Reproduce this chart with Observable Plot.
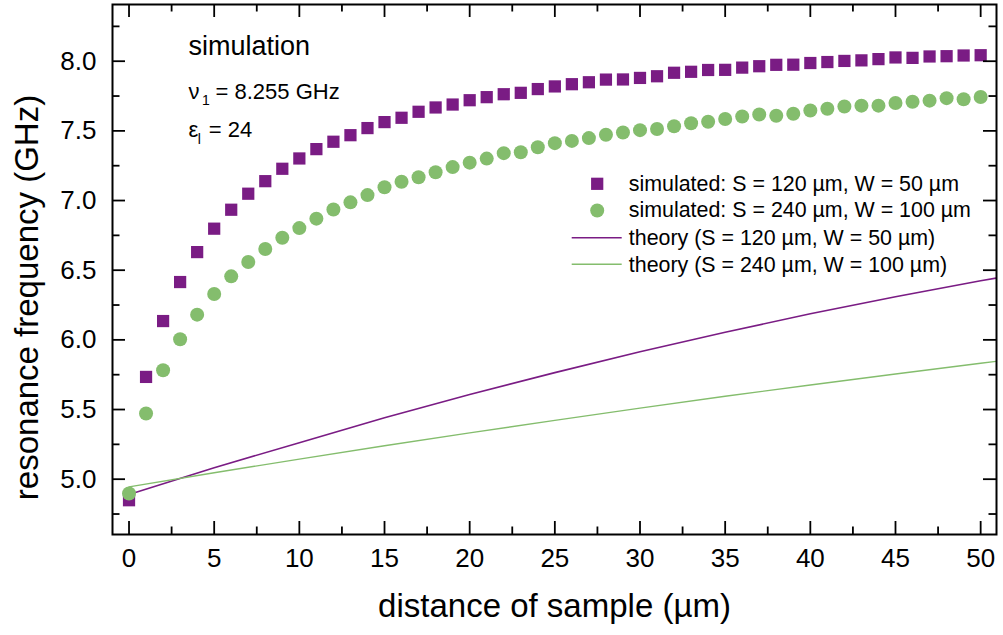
<!DOCTYPE html>
<html>
<head>
<meta charset="utf-8">
<script src="https://cdn.jsdelivr.net/npm/d3@7"></script>
<script src="https://cdn.jsdelivr.net/npm/@observablehq/plot@0.6"></script>
<style>
  html, body { margin: 0; padding: 0; background: #fff; }
  #chart svg { font-family: "Liberation Sans", Arial, sans-serif; }
</style>
</head>
<body>
<div id="chart"></div>
<script>
// ---- data ----
const distance = [0,1,2,3,4,5,6,7,8,9,10,11,12,13,14,15,16,17,18,19,20,21,22,23,24,25,26,27,28,29,30,31,32,33,34,35,36,37,38,39,40,41,42,43,44,45,46,47,48,49,50];
const simS120 = [4.849,5.734,6.135,6.415,6.630,6.798,6.934,7.049,7.139,7.228,7.302,7.369,7.422,7.469,7.520,7.563,7.594,7.637,7.668,7.689,7.720,7.742,7.763,7.773,7.800,7.819,7.835,7.849,7.868,7.869,7.880,7.892,7.917,7.924,7.937,7.938,7.954,7.964,7.974,7.975,7.987,7.994,8.002,8.006,8.015,8.027,8.024,8.034,8.036,8.041,8.043];
const simS240 = [4.897,5.471,5.782,6.004,6.181,6.329,6.456,6.559,6.652,6.733,6.802,6.870,6.936,6.987,7.039,7.095,7.135,7.167,7.203,7.240,7.272,7.301,7.340,7.347,7.382,7.412,7.428,7.448,7.472,7.488,7.505,7.513,7.533,7.555,7.565,7.585,7.603,7.618,7.608,7.623,7.646,7.659,7.675,7.681,7.681,7.700,7.709,7.717,7.735,7.727,7.743];
const theoryDistance = [0,5,10,15,20,25,30,35,40,45,50,51];
const theoryS120 = [4.890,5.082,5.262,5.441,5.608,5.765,5.914,6.055,6.187,6.310,6.424,6.445];
const theoryS240 = [4.945,5.046,5.144,5.240,5.332,5.422,5.510,5.595,5.676,5.755,5.832,5.847];
const xMajorTicks = [0,5,10,15,20,25,30,35,40,45,50];
const xMinorTicks = [2.5,7.5,12.5,17.5,22.5,27.5,32.5,37.5,42.5,47.5];
const yMajorTicks = [5.0,5.5,6.0,6.5,7.0,7.5,8.0];
const yMinorTicks = [4.75,5.25,5.75,6.25,6.75,7.25,7.75,8.25];
const legendLabels = [
  "simulated: S = 120 µm, W = 50 µm",
  "simulated: S = 240 µm, W = 100 µm",
  "theory (S = 120 µm, W = 50 µm)",
  "theory (S = 240 µm, W = 100 µm)"
];
const purple = "#7a1c84";
const green = "#84bd6d";

// ---- tables ----
const sim120 = distance.map((d, i) => ({d, f: simS120[i]}));
const sim240 = distance.map((d, i) => ({d, f: simS240[i]}));
const th120 = theoryDistance.map((d, i) => ({d, f: theoryS120[i]}));
const th240 = theoryDistance.map((d, i) => ({d, f: theoryS240[i]}));

// ---- layout ----
const W = 1003, H = 635;
const mL = 112, mR = 7, mT = 4, mB = 101;
const plotH = H - mT - mB, plotW = W - mL - mR;
const majorLen = 13, minorLen = 7.5;
const tickStroke = 1.8;

// legend geometry (pixels relative to frame top-left)
const legRows = [179.3, 206, 233.7, 260.3];
const legSymX = 484.7, legTextX = 516.3, legLineX1 = 459.7, legLineX2 = 509.7;

function legendLines(index, scales, values, dims) {
  const g = d3.create("svg:g");
  [[legRows[2], purple, 1.6], [legRows[3], green, 1.4]].forEach(([y, c, w]) => {
    g.append("line")
      .attr("x1", dims.marginLeft + legLineX1).attr("x2", dims.marginLeft + legLineX2)
      .attr("y1", dims.marginTop + y).attr("y2", dims.marginTop + y)
      .attr("stroke", c).attr("stroke-width", w);
  });
  return g.node();
}

const txt = (t, dx, dy, fontSize, extra = {}) =>
  Plot.text([t], {frameAnchor: "top-left", dx, dy, fontSize, textAnchor: "start", lineAnchor: "middle", fill: "#000", ...extra});

const chart = Plot.plot({
  width: W, height: H,
  marginLeft: mL, marginRight: mR, marginTop: mT, marginBottom: mB,
  style: {fontFamily: "'Liberation Sans', Arial, sans-serif", color: "#000", background: "#fff"},
  x: {domain: [-0.97, 50.93]},
  y: {domain: [4.603, 8.407]},
  marks: [
    // theory lines
    Plot.line(th120, {x: "d", y: "f", stroke: purple, strokeWidth: 1.6, clip: true}),
    Plot.line(th240, {x: "d", y: "f", stroke: green, strokeWidth: 1.4, clip: true}),
    // simulated markers
    Plot.dot(sim120, {x: "d", y: "f", symbol: "square", r: 6.9, fill: purple, stroke: "none"}),
    Plot.dot(sim240, {x: "d", y: "f", symbol: "circle", r: 7, fill: green, stroke: "none"}),
    // frame and inward ticks
    Plot.frame({stroke: "#000", strokeWidth: 2}),
    Plot.tickX(xMajorTicks, {x: d => d, insetTop: plotH - majorLen, stroke: "#000", strokeWidth: tickStroke}),
    Plot.tickX(xMinorTicks, {x: d => d, insetTop: plotH - minorLen, stroke: "#000", strokeWidth: tickStroke}),
    Plot.tickX(xMajorTicks, {x: d => d, insetBottom: plotH - majorLen, stroke: "#000", strokeWidth: tickStroke}),
    Plot.tickX(xMinorTicks, {x: d => d, insetBottom: plotH - minorLen, stroke: "#000", strokeWidth: tickStroke}),
    Plot.tickY(yMajorTicks, {y: d => d, insetRight: plotW - majorLen, stroke: "#000", strokeWidth: tickStroke}),
    Plot.tickY(yMinorTicks, {y: d => d, insetRight: plotW - minorLen, stroke: "#000", strokeWidth: tickStroke}),
    Plot.tickY(yMajorTicks, {y: d => d, insetLeft: plotW - majorLen, stroke: "#000", strokeWidth: tickStroke}),
    Plot.tickY(yMinorTicks, {y: d => d, insetLeft: plotW - minorLen, stroke: "#000", strokeWidth: tickStroke}),
    // axes labels
    Plot.axisX({ticks: xMajorTicks, tickSize: 0, tickPadding: 14, fontSize: 26, label: null, tickFormat: d => String(d)}),
    Plot.axisY({ticks: yMajorTicks, tickSize: 0, tickPadding: 16, fontSize: 26, label: null, tickFormat: d3.format(".1f")}),
    Plot.text(["distance of sample (µm)"], {frameAnchor: "bottom", dy: 72, fontSize: 33, textAnchor: "middle", lineAnchor: "middle", fill: "#000"}),
    Plot.text(["resonance frequency (GHz)"], {frameAnchor: "left", rotate: -90, dx: -85, dy: 28, fontSize: 33, textAnchor: "middle", lineAnchor: "middle", fill: "#000"}),
    // annotations
    txt("simulation", 76, 41.4, 27),
    txt("ν", 76, 87.3, 22),
    txt("1", 89.5, 96.5, 14),
    txt("= 8.255 GHz", 103, 87.3, 22),
    txt("ε", 76, 125, 22),
    txt("l", 85.3, 134.8, 14),
    txt("= 24", 96.3, 125, 22),
    // legend
    Plot.dot([legendLabels[0]], {frameAnchor: "top-left", dx: legSymX, dy: legRows[0], symbol: "square", r: 6.9, fill: purple, stroke: "none"}),
    Plot.dot([legendLabels[1]], {frameAnchor: "top-left", dx: legSymX, dy: legRows[1], symbol: "circle", r: 7, fill: green, stroke: "none"}),
    legendLines,
    ...legendLabels.map((t, i) => txt(t, legTextX, legRows[i], 21.4))
  ]
});
document.getElementById("chart").appendChild(chart);
</script>
</body>
</html>
